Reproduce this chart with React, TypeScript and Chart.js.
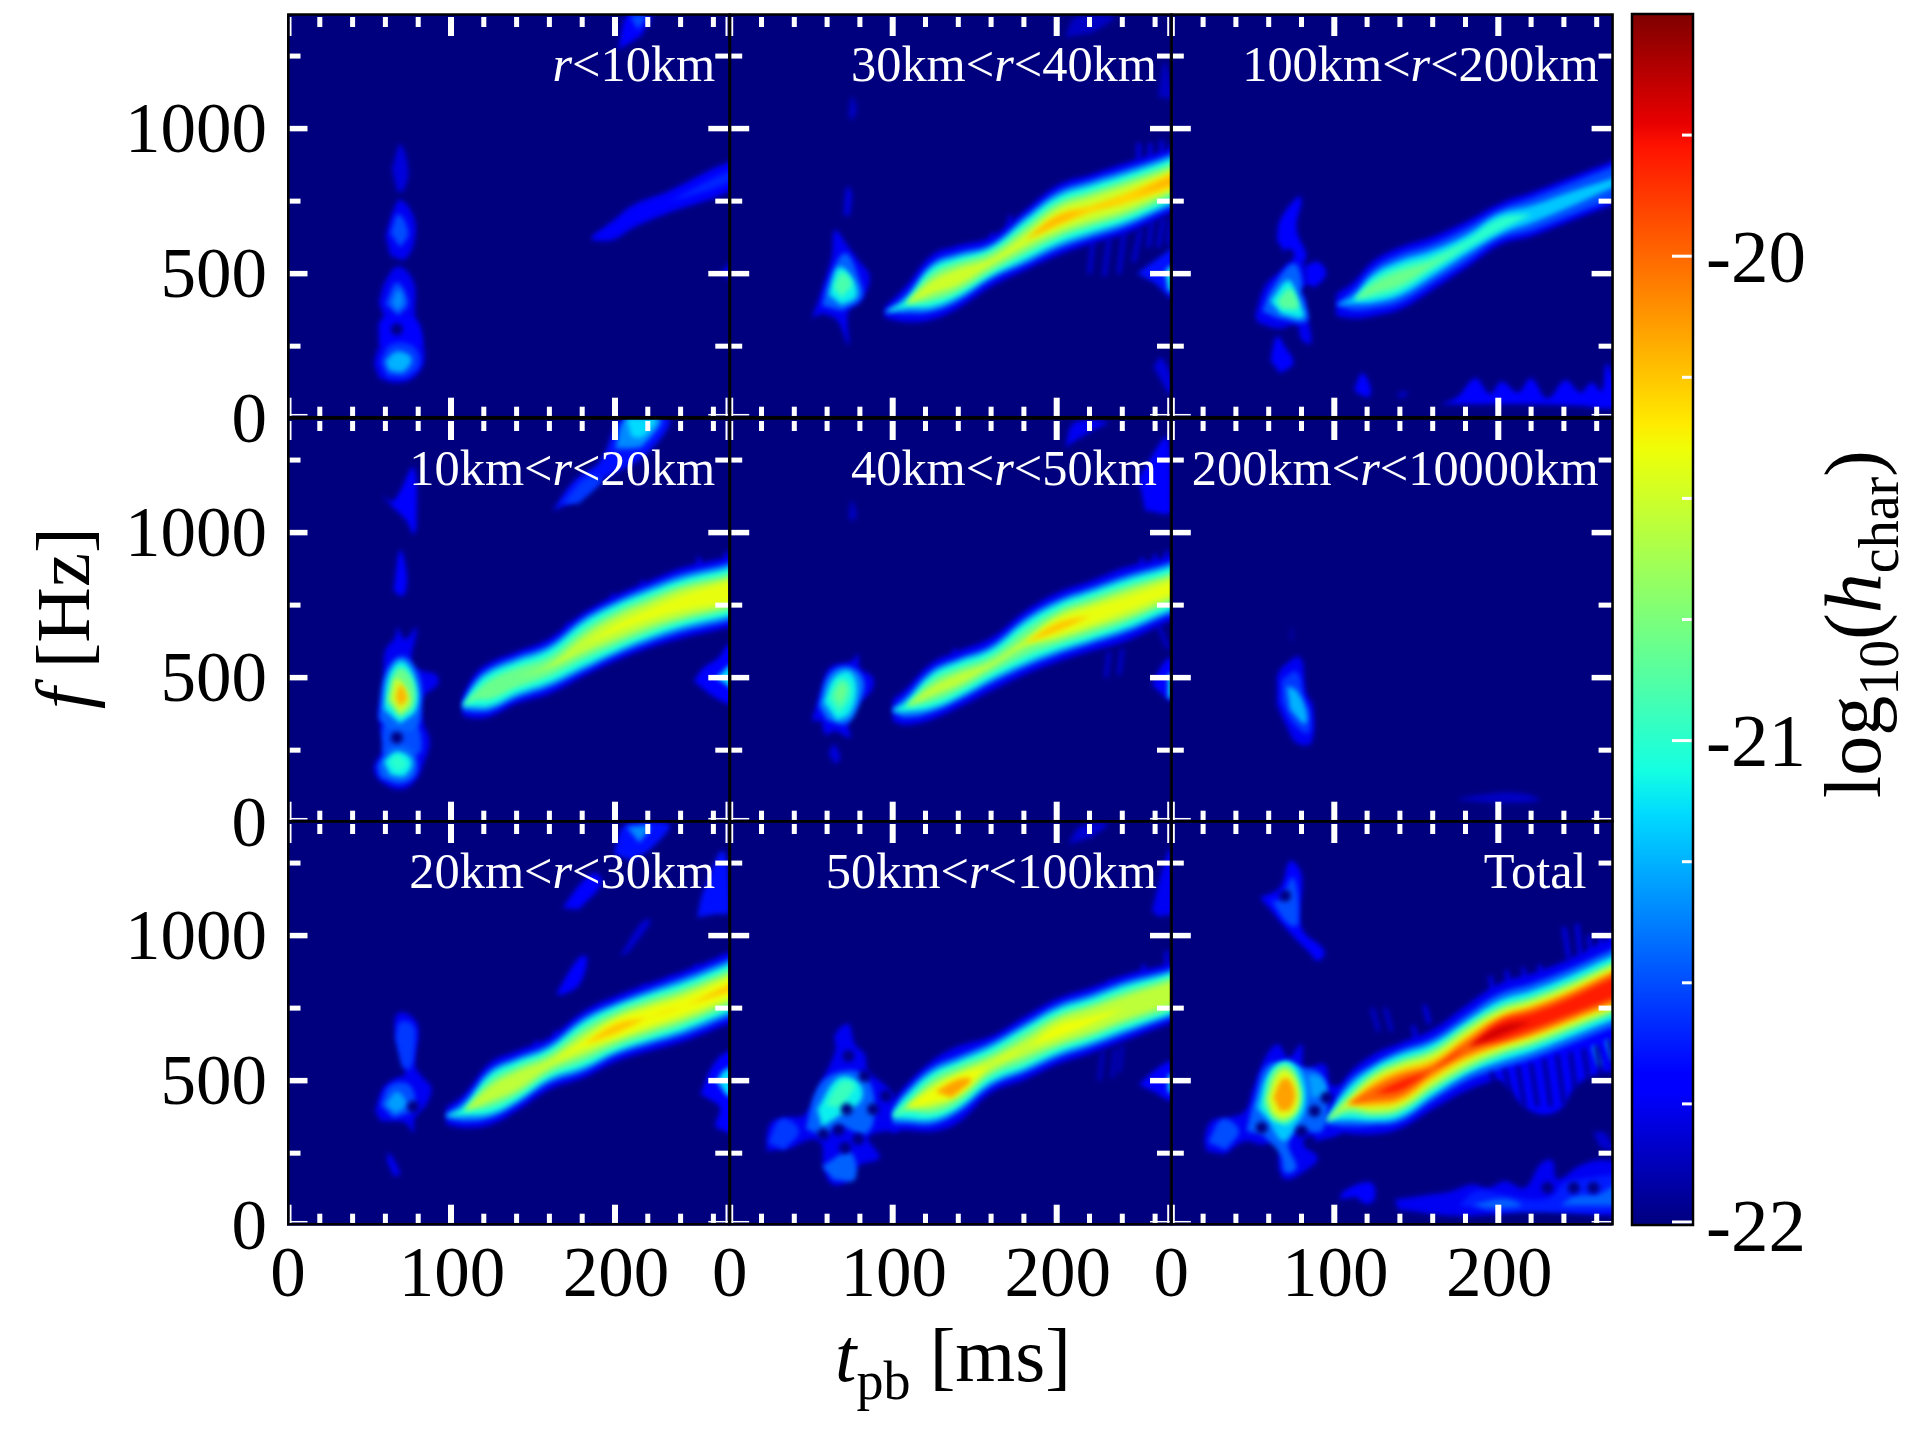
import React, { useEffect, useRef } from "react";
import { Chart, registerables } from "chart.js";
Chart.register(...registerables);

const SERIF = "'Liberation Serif'";
const NAVY = "rgb(0,0,127)";

// ---- axes
const xMajor = [0, 100, 200];
const xMinor = [20, 40, 60, 80, 120, 140, 160, 180, 220, 240, 260];
const yMajor = [0, 500, 1000];
const yMinor = [250, 750, 1250];
const cbMajor = [-22, -21, -20];
const cbMinor = [-21.75, -21.5, -21.25, -20.75, -20.5, -20.25, -19.75];
const jetStops = [
  [0, 0, 0, 127], [0.11, 0, 0, 255], [0.125, 0, 0, 255], [0.34, 0, 219, 255], [0.375, 20, 255, 226],
  [0.64, 238, 255, 8], [0.66, 255, 236, 0], [0.89, 255, 19, 0], [0.91, 232, 0, 0], [1, 127, 0, 0],
];

// ---- panel r<10km
const p1Label = ["", "r", "<10km"];
const p1T = [186, 199, 211, 233, 260, 270, 280];
const p1F = [622, 650, 697, 748, 811, 834, 850];
const p1Bands = [
  [-21.75, [8, 34, 40, 38, 52, 52, 52]],
  [-21.7, [0, 14, 21, 21, 34, 34, 34]],
  [-21.6, [0, 0, 0, 0, 18, 18, 18]],
];
const p1Blobs = [
  [-21.75, [53, 190, 56, 245, 63, 290, 78, 305, 84, 215, 78, 145, 66, 124, 56, 140]],
  [-21.75, [56, 400, 60, 475, 68, 525, 77, 475, 78, 380, 76, 320, 60, 340]],
  [-21.72, [56, 260, 58, 345, 78, 345, 82, 260, 74, 240, 60, 240]],
  [-21.5, [60, 395, 67, 470, 74, 400, 68, 355]],
  [-21.35, [64, 400, 68, 445, 71, 400, 67, 372]],
  [-21.55, [57, 195, 63, 255, 77, 250, 81, 190, 73, 145, 61, 145]],
  [-21.25, [60, 200, 67, 232, 76, 208, 71, 162, 62, 166]],
  [-21.75, [60, 630, 65, 720, 69, 755, 77, 700, 78, 620, 72, 550, 63, 562]],
  [-21.5, [63, 640, 68, 705, 74, 640, 69, 590]],
  [-21.8, [64, 860, 69, 945, 74, 860, 71, 785, 67, 785]],
  [-21.7, [202, 1271, 208, 1395, 222, 1395, 216, 1320]],
  [-21.5, [209, 1390, 219, 1390, 214, 1340]],
  [-21.8, [264, 505, 272, 540, 272, 470]],
];
const p1Streaks = [];
const p1Holes = [[67, 308]];

// ---- panel 30km<r<40km
const p2Label = ["30km<", "r", "<40km"];
const p2T = [95, 108, 124, 140, 160, 181, 201, 221, 242, 268, 280];
const p2F = [366, 395, 453, 489, 541, 616, 685, 723, 760, 817, 845];
const p2Bands = [
  [-21.75, [18, 62, 112, 108, 86, 104, 122, 120, 122, 112, 112]],
  [-21.4, [0, 32, 84, 84, 62, 84, 100, 100, 100, 92, 92]],
  [-21.05, [0, 14, 68, 68, 48, 68, 82, 82, 82, 76, 76]],
  [-20.75, [0, 0, 46, 50, 34, 46, 60, 60, 62, 57, 57]],
  [-20.5, [0, 0, 22, 28, 12, 22, 40, 40, 42, 38, 38]],
  [-20.3, [0, 0, 0, 0, 0, 0, 20, 12, 18, 26, 26]],
  [-20.2, [0, 0, 0, 0, 0, 0, 9, 0, 0, 12, 12]],
];
const p2Blobs = [
  [-21.75, [50.6, 346, 56.7, 444, 62.8, 559, 64.8, 650, 73, 593, 79, 547, 86, 490, 81, 409, 73, 369, 73, 254, 66, 340, 57, 363]],
  [-21.45, [57, 390, 61, 475, 71, 570, 80, 475, 81, 415, 69, 372]],
  [-21.1, [61, 428, 67, 522, 75, 488, 78, 422, 69, 392]],
  [-20.9, [64, 452, 69, 505, 75, 465, 69, 418]],
  [-21.85, [73, 1040, 75, 1110, 78, 1070, 76, 1030]],
  [-21.8, [70, 700, 72, 800, 75, 780, 74, 700]],
  [-21.65, [249, 501, 266, 570, 272, 593, 290, 600, 290, 400, 272, 409, 260, 467]],
  [-21.1, [268, 440, 268, 520, 290, 525, 290, 435]],
  [-21.85, [205, 1315, 212, 1385, 235, 1385, 222, 1330]],
  [-21.85, [262, 1110, 266, 1230, 271, 1100]],
  [-21.8, [259, 180, 264, 210, 272, 100, 268, 85]],
];
const p2Streaks = [
  [-21.75, 250, 890, 250, 950], [-21.75, 257, 890, 257, 950], [-21.75, 264, 890, 264, 960], [-21.75, 270, 890, 270, 950],
  [-21.75, 170, 650, 172, 700], [-21.75, 160, 600, 161, 640], [-21.75, 140, 560, 141, 590], [-21.75, 210, 790, 211, 820],
  [-21.8, 222, 610, 220, 500], [-21.8, 232, 620, 229, 490], [-21.8, 241, 640, 238, 500],
  [-21.8, 251, 650, 247, 540], [-21.8, 258, 680, 256, 590], [-21.8, 265, 690, 262, 590], [-21.8, 270, 690, 268, 600],
];
const p2Holes = [];

// ---- panel 100km<r<200km
const p3Label = ["100km<", "r", "<200km"];
const p3T = [101, 112, 124, 140, 160, 181, 201, 221, 242, 268, 280];
const p3F = [392, 409, 449, 484, 536, 602, 671, 706, 752, 809, 834];
const p3Bands = [
  [-21.75, [38, 64, 96, 108, 92, 80, 72, 76, 76, 76, 76]],
  [-21.5, [0, 36, 70, 84, 68, 58, 52, 56, 56, 56, 56]],
  [-21.2, [0, 14, 50, 62, 46, 34, 36, 30, 26, 16, 16]],
  [-21.0, [0, 0, 36, 46, 28, 18, 22, 0, 0, 0, 0]],
  [-20.8, [0, 0, 18, 26, 8, 0, 0, 0, 0, 0, 0]],
];
const p3Blobs = [
  [-21.75, [51.6, 352, 57.7, 457, 65.9, 503, 78, 560, 84, 457, 82, 410, 86, 261, 80, 272, 77, 323, 66, 311, 53.7, 330]],
  [-21.7, [65, 616, 67, 685, 78, 766, 80, 755, 77, 653, 83, 560, 78, 537, 70, 570]],
  [-21.7, [82, 525, 90, 541, 95, 501, 88, 453, 83, 453]],
  [-21.7, [61, 202, 65, 283, 70, 248, 75, 191, 67, 156]],
  [-21.45, [56, 370, 62, 450, 76, 535, 82, 405, 83, 335, 66, 345]],
  [-21.1, [61, 405, 72, 477, 78, 409, 81, 350, 68, 360]],
  [-20.85, [65, 405, 73, 448, 78, 382, 68, 378]],
  [-21.72, [165, 50, 175, 75, 186, 139, 195, 85, 202, 128, 212, 90, 220, 139, 230, 70, 241, 133, 250, 90, 257, 125, 263, 95, 266, 190, 272, 100, 272, 40, 250, 45, 220, 50, 190, 50]],
  [-21.7, [112, 100, 117, 157, 122, 110, 121, 75, 115, 85]],
  [-21.85, [138, 80, 141, 95, 145, 85, 141, 70]],
];
const p3Streaks = [];
const p3Holes = [[72, 565], [84, 440]];

// ---- panel 10km<r<20km
const p4Label = ["10km<", "r", "<20km"];
const p4T = [107, 115, 124, 140, 160, 181, 201, 221, 242, 268, 280];
const p4F = [402, 437, 460, 500, 540, 615, 672, 718, 759, 793, 815];
const p4Bands = [
  [-21.75, [34, 78, 94, 90, 96, 110, 114, 116, 122, 122, 122]],
  [-21.4, [14, 55, 74, 72, 74, 92, 95, 97, 100, 100, 100]],
  [-21.05, [0, 38, 58, 56, 58, 76, 80, 80, 82, 82, 82]],
  [-20.8, [0, 14, 34, 34, 34, 52, 60, 62, 64, 64, 64]],
  [-20.55, [0, 0, 0, 0, 6, 28, 40, 42, 48, 48, 48]],
  [-20.42, [0, 0, 0, 0, 0, 0, 12, 18, 26, 34, 34]],
];
const p4Blobs = [
  [-21.75, [55.7, 385, 58.7, 477, 59.8, 592, 65.9, 638, 67.3, 672, 72, 632, 79, 672, 76, 546, 83, 523, 91, 511, 92, 477, 83, 431, 83, 350, 87, 282, 83, 201, 78, 144, 69, 115, 57, 144, 53, 190, 59, 259, 57, 328]],
  [-21.5, [58, 245, 60, 340, 78, 340, 82, 250, 76, 230, 62, 230]],
  [-21.45, [55, 196, 64, 265, 76, 252, 79, 175, 70, 135, 57, 155]],
  [-21.1, [59, 210, 67, 245, 76, 215, 72, 162, 63, 165]],
  [-21.0, [62, 212, 68, 232, 73, 200, 67, 175]],
  [-21.45, [56, 358, 60, 515, 70, 575, 80, 515, 82, 405, 78, 322, 62, 322]],
  [-21.1, [59, 392, 62, 508, 70, 558, 78, 495, 79, 393, 69, 342]],
  [-20.8, [61, 416, 65, 510, 70, 535, 77, 482, 77, 402, 69, 362]],
  [-20.5, [63, 428, 67, 498, 75, 422, 69, 375]],
  [-20.2, [66.5, 431, 69, 474, 73, 431, 69, 400]],
  [-21.72, [65, 800, 69, 940, 73, 860, 72, 790, 69, 780]],
  [-21.72, [58, 1126, 65, 1110, 77, 1224, 79, 1029, 77, 994, 73, 1040, 65, 1086]],
  [-21.65, [162, 1075, 175, 1178, 191, 1247, 205, 1395, 233, 1395, 219, 1270, 191, 1178, 175, 1108]],
  [-21.55, [168, 1100, 183, 1190, 192, 1180, 178, 1100]],
  [-21.35, [200, 1290, 207, 1395, 228, 1395, 217, 1300, 210, 1290]],
  [-21.15, [207, 1395, 225, 1395, 217, 1330, 210, 1330]],
  [-21.7, [248, 488, 254, 534, 263, 568, 270, 615, 290, 615, 290, 400, 270, 408, 258, 442]],
  [-21.15, [262, 500, 272, 545, 290, 545, 290, 455, 272, 460]],
];
const p4Streaks = [
  [-21.75, 252, 860, 251, 915], [-21.75, 268, 865, 268, 935], [-21.75, 217, 780, 217, 835],
  [-21.75, 236, 810, 236, 850], [-21.75, 170, 640, 172, 690], [-21.75, 199, 750, 199, 790],
];
const p4Holes = [[67, 293]];

// ---- panel 40km<r<50km
const p5Label = ["40km<", "r", "<50km"];
const p5T = [100, 108, 124, 140, 160, 181, 201, 221, 242, 268, 280];
const p5F = [387, 399, 454, 494, 546, 621, 675, 713, 753, 805, 830];
const p5Bands = [
  [-21.75, [38, 62, 98, 98, 92, 110, 120, 122, 128, 112, 112]],
  [-21.4, [8, 36, 74, 74, 66, 86, 96, 98, 100, 90, 90]],
  [-21.05, [0, 16, 58, 60, 50, 70, 80, 82, 84, 74, 74]],
  [-20.8, [0, 0, 38, 40, 30, 46, 60, 64, 64, 54, 54]],
  [-20.55, [0, 0, 16, 20, 9, 16, 42, 44, 46, 40, 40]],
  [-20.42, [0, 0, 0, 0, 0, 0, 26, 28, 24, 22, 22]],
  [-20.25, [0, 0, 0, 0, 0, 0, 14, 0, 0, 0, 0]],
];
const p5Blobs = [
  [-21.75, [50.6, 351, 56.7, 466, 61.8, 535, 75, 557, 79, 580, 80, 534, 88, 500, 87, 454, 79, 408, 73, 339, 74, 293, 65, 316, 59, 305, 56.7, 351]],
  [-21.4, [55, 402, 61, 508, 72, 538, 82, 495, 80, 415, 72, 342, 60, 354]],
  [-21.1, [58, 415, 64, 498, 73, 522, 78, 470, 74, 378, 66, 352]],
  [-20.95, [61, 428, 67, 494, 73, 488, 74, 430, 67, 375]],
  [-20.8, [64, 440, 69, 482, 72, 460, 68, 402]],
  [-21.8, [61, 236, 64, 270, 68, 224, 65, 201]],
  [-21.85, [73, 1050, 75, 1110, 78, 1060, 76, 1040]],
  [-21.75, [205, 1293, 211, 1380, 231, 1380, 221, 1350]],
  [-21.72, [250, 1190, 268, 1328, 270, 1075, 254, 1075]],
  [-21.7, [258, 477, 266, 557, 270, 569, 290, 569, 290, 420, 270, 420, 262, 454]],
  [-21.1, [268, 511, 290, 511, 290, 430, 268, 430]],
];
const p5Streaks = [
  [-21.75, 252, 860, 252, 914], [-21.75, 260, 870, 260, 925], [-21.75, 267, 870, 267, 937], [-21.75, 138, 570, 138, 598],
  [-21.82, 232, 590, 230, 500], [-21.82, 240, 600, 238, 510], [-21.82, 262, 680, 268, 600],
];
const p5Holes = [];

// ---- panel 200km<r<10000km
const p6Label = ["200km<", "r", "<10000km"];
const p6T = [];
const p6F = [];
const p6Bands = [];
const p6Blobs = [
  [-21.75, [65, 505, 68, 535, 79, 570, 83, 443, 87, 405, 86, 275, 77, 275, 71, 332, 65, 405]],
  [-21.55, [68, 492, 77, 520, 82, 420, 85, 382, 84, 308, 75, 342, 68, 418]],
  [-21.25, [71, 470, 77, 455, 83, 382, 82, 340, 73, 390]],
  [-21.9, [73, 640, 74, 680, 75, 640, 74, 620]],
  [-21.85, [176, 85, 195, 100, 205, 105, 220, 95, 225, 75, 195, 70, 176, 78]],
];
const p6Streaks = [];
const p6Holes = [];

// ---- panel 20km<r<30km
const p7Label = ["20km<", "r", "<30km"];
const p7T = [97, 108, 124, 140, 160, 181, 201, 221, 242, 268, 280];
const p7F = [378, 395, 455, 499, 559, 625, 680, 719, 757, 815, 840];
const p7Bands = [
  [-21.75, [30, 58, 108, 104, 90, 115, 114, 118, 122, 122, 122]],
  [-21.4, [8, 36, 84, 82, 68, 94, 92, 96, 100, 100, 100]],
  [-21.05, [0, 16, 68, 68, 52, 78, 78, 80, 82, 82, 82]],
  [-20.8, [0, 0, 46, 50, 36, 58, 62, 64, 64, 64, 64]],
  [-20.55, [0, 0, 26, 32, 18, 36, 44, 46, 46, 48, 48]],
  [-20.4, [0, 0, 0, 0, 0, 12, 30, 30, 28, 32, 32]],
  [-20.25, [0, 0, 0, 0, 0, 0, 16, 0, 0, 12, 12]],
];
const p7Blobs = [
  [-21.75, [53.7, 395, 58.7, 476, 67, 510, 72, 522, 66, 672, 67, 729, 74, 729, 80, 683, 78, 556, 83, 510, 88, 476, 85, 418, 78, 372, 77, 321, 72, 355, 57, 361]],
  [-21.5, [57, 415, 63, 484, 75, 484, 77, 403, 65, 370]],
  [-21.3, [60, 418, 67, 462, 73, 418, 66, 387]],
  [-21.55, [66, 648, 69, 702, 77, 690, 78, 625, 75, 540, 70, 550]],
  [-21.75, [61, 223, 62, 252, 69, 177, 65, 171]],
  [-21.7, [168, 1096, 180, 1185, 188, 1215, 192, 1180, 178, 1090]],
  [-21.65, [199, 1280, 207, 1385, 233, 1385, 222, 1300, 210, 1260]],
  [-21.35, [207, 1375, 221, 1375, 215, 1320]],
  [-21.65, [250, 1062, 254, 1154, 266, 1292, 270, 1085, 260, 1073]],
  [-21.82, [203, 930, 217, 1050, 222, 1050, 208, 940]],
  [-21.7, [164, 798, 178, 924, 183, 924, 178, 830, 168, 795]],
  [-21.7, [252, 453, 260, 556, 270, 602, 290, 602, 290, 326, 262, 338, 264, 407, 256, 441]],
  [-21.15, [262, 500, 268, 540, 290, 560, 290, 440, 268, 450]],
];
const p7Streaks = [
  [-21.75, 218, 790, 218, 832], [-21.75, 250, 860, 250, 901], [-21.75, 266, 880, 266, 935],
  [-21.75, 164, 630, 164, 671], [-21.75, 152, 600, 152, 637], [-21.75, 234, 820, 234, 860],
];
const p7Holes = [[77, 410]];

// ---- panel 50km<r<100km
const p8Label = ["50km<", "r", "<100km"];
const p8T = [100, 108, 124, 140, 160, 181, 201, 221, 242, 268, 280];
const p8F = [378, 407, 447, 487, 556, 614, 671, 708, 752, 798, 822];
const p8Bands = [
  [-21.75, [52, 78, 122, 132, 98, 110, 114, 114, 114, 104, 104]],
  [-21.4, [26, 56, 98, 98, 76, 86, 92, 92, 92, 84, 84]],
  [-21.05, [8, 38, 80, 80, 60, 70, 76, 76, 76, 70, 70]],
  [-20.8, [0, 14, 60, 64, 40, 52, 58, 58, 58, 56, 56]],
  [-20.55, [0, 0, 40, 44, 22, 28, 42, 42, 40, 40, 40]],
  [-20.4, [0, 0, 22, 32, 0, 0, 20, 12, 0, 0, 0]],
];
const p8Blobs = [
  [-20.15, [126, 462, 140, 505, 148, 503, 136, 442]],
  [-21.75, [23, 257, 25, 349, 34, 372, 46.5, 384, 56.7, 499, 65, 603, 65, 661, 73, 695, 77, 625, 83, 591, 85, 534, 97, 476, 103, 418, 103, 326, 95, 326, 85, 304, 92, 235, 79, 206, 73, 154, 63, 143, 57.7, 212, 56.7, 281, 50.6, 298, 38.4, 269]],
  [-21.45, [47, 334, 55, 482, 69, 532, 83, 516, 89, 415, 84, 318, 67, 342, 58, 308]],
  [-21.45, [57, 205, 74, 254, 77, 160, 64, 158]],
  [-21.55, [24, 286, 32, 368, 43, 328, 34, 262]],
  [-21.1, [54, 402, 67, 510, 79, 495, 81, 436, 69, 385, 57, 342]],
  [-20.95, [59, 415, 69, 498, 77, 482, 68, 408]],
  [-21.7, [250, 487, 262, 545, 270, 568, 290, 568, 290, 430, 270, 430, 260, 459]],
  [-21.1, [268, 520, 290, 520, 290, 460, 268, 460]],
  [-21.82, [207, 1315, 215, 1378, 231, 1384, 221, 1338]],
  [-21.75, [258, 1085, 268, 1292, 272, 1292, 272, 1085, 262, 1065]],
];
const p8Streaks = [
  [-21.75, 267, 880, 267, 947], [-21.75, 253, 860, 253, 901], [-21.75, 233, 810, 233, 844],
  [-21.85, 228, 600, 226, 500], [-21.85, 236, 610, 234, 510], [-21.85, 240, 620, 238, 530],
];
const p8Holes = [[73, 585], [83, 516], [96, 447], [88, 401], [72, 401], [67, 330], [57.7, 315], [79, 298], [71, 269]];

// ---- panel Total
const p9Label = ["Total", "", ""];
const p9T = [95, 108, 124, 140, 160, 181, 201, 221, 242, 268, 280];
const p9F = [361, 418, 453, 482, 539, 614, 671, 706, 752, 815, 840];
const p9Bands = [
  [-21.75, [36, 100, 138, 148, 138, 148, 164, 164, 164, 174, 174]],
  [-21.45, [12, 76, 108, 124, 108, 114, 130, 130, 130, 134, 134]],
  [-21.1, [0, 54, 92, 108, 90, 92, 106, 106, 106, 110, 110]],
  [-20.8, [0, 32, 76, 90, 72, 78, 86, 86, 86, 90, 90]],
  [-20.5, [0, 12, 60, 74, 54, 60, 70, 70, 70, 76, 76]],
  [-20.25, [0, 0, 42, 56, 34, 40, 54, 54, 54, 60, 60]],
  [-20.0, [0, 0, 26, 40, 16, 26, 44, 44, 44, 50, 50]],
  [-19.8, [0, 0, 0, 16, 0, 0, 32, 28, 28, 34, 34]],
  [-19.68, [0, 0, 0, 0, 0, 0, 16, 0, 0, 0, 0]],
];
const p9Blobs = [
  [-21.75, [22, 257, 21, 303, 25, 361, 35, 372, 45.5, 395, 50.6, 476, 59, 591, 66, 625, 72, 579, 80, 625, 82, 545, 94, 557, 98, 487, 106, 476, 104, 326, 94, 298, 82, 280, 90, 234, 82, 188, 70, 160, 66, 211, 67, 291, 56, 280, 45.5, 291, 33, 246]],
  [-21.45, [46.5, 326, 51.6, 441, 59.8, 556, 78, 545, 92, 522, 96, 418, 92, 326, 78, 326, 72, 280, 77, 200, 70, 183, 67, 246, 56, 315]],
  [-21.5, [23, 288, 31.8, 368, 42, 328, 34, 262]],
  [-21.2, [52.6, 407, 59.5, 522, 70, 568, 80, 533, 83, 418, 76, 338, 68.6, 292, 59.8, 361]],
  [-21.3, [84, 522, 92, 510, 95, 453, 86, 441]],
  [-21.0, [55.7, 407, 60.8, 522, 71, 562, 78, 510, 80, 418, 72, 349, 63, 361]],
  [-20.75, [57.7, 428, 63, 528, 71, 552, 78, 502, 79, 414, 71, 360, 63, 366]],
  [-20.45, [60, 438, 65, 516, 71, 535, 77.4, 478, 77, 403, 69, 370, 62, 390]],
  [-20.15, [63, 441, 67.5, 500, 72, 506, 76, 453, 73, 402, 67, 394]],
  [-21.72, [54.7, 1131, 66.9, 1166, 73, 1257, 80, 1211, 80, 1028, 94, 947, 90, 913, 84, 947, 72, 1016, 60, 1097]],
  [-21.5, [66.9, 1120, 75, 1200, 78, 1039, 72, 1039, 61.8, 1120]],
  [-21.75, [137, 90, 159, 108, 171, 119, 184, 143, 194, 131, 204, 154, 216, 131, 226, 215, 233, 225, 236, 160, 249, 205, 259, 225, 269, 225, 290, 225, 290, 55, 220, 55, 180, 33, 139, 55]],
  [-21.62, [176, 70, 186, 118, 200, 112, 220, 90, 232, 100, 241, 150, 255, 165, 269, 175, 290, 175, 290, 70, 200, 45]],
  [-21.45, [184, 74, 204, 92, 214, 68, 192, 60]],
  [-21.45, [238, 70, 246, 100, 262, 110, 272, 140, 290, 140, 290, 70]],
  [-21.72, [103, 90, 106, 120, 122, 150, 125, 100, 120, 75, 113, 100]],
  [-21.82, [258, 322, 265, 320, 270, 260, 262, 270]],
  [-21.7, [188, 545, 200, 510, 220, 395, 236, 395, 249, 490, 269, 533, 290, 533, 290, 720, 200, 640]],
];
const p9Streaks = [
  [-21.75, 240, 1030, 243, 920], [-21.75, 248, 1040, 250, 930], [-21.75, 255, 1000, 258, 900],
  [-21.75, 262, 1010, 264, 910], [-21.75, 268, 1000, 270, 900], [-21.75, 195, 860, 197, 800], [-21.75, 205, 880, 207, 810],
  [-21.75, 215, 890, 217, 830], [-21.75, 225, 900, 227, 850], [-21.82, 123, 750, 127, 670],
  [-21.82, 131, 750, 135, 670], [-21.75, 155, 760, 158, 695], [-21.75, 148, 690, 150, 640],
  [-21.3, 258, 620, 262, 550], [-21.3, 266, 640, 270, 570], [-21.3, 274, 650, 278, 570],
  [-22, 196, 530, 200, 440], [-22, 204, 540, 208, 440], [-22, 212, 550, 216, 410], [-22, 220, 560, 224, 410],
  [-22, 228, 575, 232, 410], [-22, 236, 590, 240, 420], [-22, 244, 600, 247, 470], [-22, 252, 610, 255, 500],
  [-22, 260, 620, 263, 510], [-22, 268, 640, 271, 530],
];
const p9Holes = [[55.7, 338], [95.3, 441], [80, 326], [88, 395], [85, 290], [70, 1137], [230, 131], [246, 131], [258, 131]];

const panels = [
  [p1Label, p1T, p1F, p1Bands, p1Blobs, p1Streaks, p1Holes],
  [p2Label, p2T, p2F, p2Bands, p2Blobs, p2Streaks, p2Holes],
  [p3Label, p3T, p3F, p3Bands, p3Blobs, p3Streaks, p3Holes],
  [p4Label, p4T, p4F, p4Bands, p4Blobs, p4Streaks, p4Holes],
  [p5Label, p5T, p5F, p5Bands, p5Blobs, p5Streaks, p5Holes],
  [p6Label, p6T, p6F, p6Bands, p6Blobs, p6Streaks, p6Holes],
  [p7Label, p7T, p7F, p7Bands, p7Blobs, p7Streaks, p7Holes],
  [p8Label, p8T, p8F, p8Bands, p8Blobs, p8Streaks, p8Holes],
  [p9Label, p9T, p9F, p9Bands, p9Blobs, p9Streaks, p9Holes],
] as any[];

// ---- layout of the figure
const colLeft = [287, 728.7, 1170.3];
const rowTop = [14, 418, 821];
const panelW = 442.3;
const panelH = 404.7;
const xMax = 269.7;
const yMax = 1395;
const CW = 1920;
const CH = 1440;
const yAxisBox = 270;
const xAxisBox = 100;
const cbAxisBox = 200;

function jet(level: number) {
  const x = Math.max(0, Math.min(1, (level + 22) / 2.5));
  for (let i = 1; i < jetStops.length; i++) {
    const a = jetStops[i - 1], b = jetStops[i];
    if (x <= b[0]) {
      const k = (x - a[0]) / (b[0] - a[0]);
      return `rgb(${[1, 2, 3].map((j) => Math.round(a[j] + (b[j] - a[j]) * k)).join(",")})`;
    }
  }
  return NAVY;
}

function polygon(level: number, pts: { x: number; y: number }[]) {
  return { level, data: pts, showLine: true, fill: "shape", backgroundColor: jet(level), borderWidth: 0, pointRadius: 0, tension: 0.4 };
}

function buildDatasets(T: number[], F: number[], bands: any[], blobs: any[], streaks: any[], holes: any[]) {
  const items: any[] = [];
  for (const [level, w] of bands) {
    const idx = T.map((_, i) => i).filter((i) => w[i] > 0 || w[i - 1] > 0 || w[i + 1] > 0);
    const up = idx.map((i) => ({ x: T[i], y: F[i] + w[i] }));
    const down = idx.slice().reverse().map((i) => ({ x: T[i], y: F[i] - w[i] }));
    items.push(polygon(level, [...up, ...down]));
  }
  for (const [level, c] of blobs) {
    const pts = [];
    for (let i = 0; i < c.length; i += 2) pts.push({ x: c[i], y: c[i + 1] });
    items.push(polygon(level, pts));
  }
  for (const [level, x0, y0, x1, y1] of streaks) {
    items.push({
      level, data: [{ x: x0, y: y0 }, { x: x1, y: y1 }], showLine: true, fill: false,
      borderColor: jet(level), borderWidth: 4, pointRadius: 0, tension: 0,
    });
  }
  items.sort((a, b) => (a.level <= -22 ? 1 : 0) - (b.level <= -22 ? 1 : 0) || a.level - b.level);
  if (holes.length) {
    items.push({
      level: -22, data: holes.map((h: number[]) => ({ x: h[0], y: h[1] })), showLine: false, fill: false,
      pointRadius: 6, pointBorderWidth: 0, pointBackgroundColor: NAVY,
    });
  }
  // Chart.js paints the first dataset last
  return items.reverse();
}

function drawRun(ctx: CanvasRenderingContext2D, runs: any[]) {
  let x = 0;
  for (const r of runs) {
    ctx.font = r.font;
    ctx.fillText(r.text, x, r.dy || 0);
    x += ctx.measureText(r.text).width;
  }
}

function frame(ctx: CanvasRenderingContext2D, l: number, t: number, w: number, h: number) {
  ctx.save();
  ctx.strokeStyle = "#000";
  ctx.lineWidth = 2.5;
  ctx.strokeRect(l, t, w, h);
  ctx.restore();
}

const blurPlugin = {
  id: "softField",
  beforeDraw(chart: any) {
    const a = chart.chartArea;
    chart.ctx.save();
    chart.ctx.fillStyle = NAVY;
    chart.ctx.fillRect(a.left, a.top, a.width, a.height);
    chart.ctx.restore();
  },
  beforeDatasetsDraw(chart: any) {
    chart.ctx.save();
    chart.ctx.filter = "blur(2.5px)";
  },
  afterDatasetsDraw(chart: any) {
    chart.ctx.restore();
  },
};

function panelOverlay(col: number, label: string[]) {
  return {
    id: "panelOverlay",
    afterDraw(chart: any) {
      const { ctx, chartArea: a, scales } = chart;
      const sx = scales.x, sy = scales.y;
      ctx.save();
      ctx.fillStyle = "#fff";
      const vTick = (px: number, len: number, w: number) => {
        ctx.fillRect(px - w / 2, a.top + 3, w, len);
        ctx.fillRect(px - w / 2, a.bottom - 2 - len, w, len);
      };
      xMinor.forEach((v) => vTick(sx.getPixelForValue(v), 10, 5));
      xMajor.forEach((v) => vTick(Math.max(sx.getPixelForValue(v), a.left + 3.5), 19, v === 0 ? 2 : 6));
      if (col < 2) vTick(sx.getPixelForValue(268), 19, 2);
      const hTick = (py: number, len: number, w: number) => {
        ctx.fillRect(a.left + 2.5, py - w / 2, len, w);
        ctx.fillRect(a.right - 1 - len - 2, py - w / 2, len + 2, w);
      };
      yMinor.forEach((v) => hTick(sy.getPixelForValue(v), 11, 5));
      yMajor.forEach((v) => hTick(Math.min(sy.getPixelForValue(v), a.bottom - 4), 18, v === 0 ? 1.5 : 5.5));
      frame(ctx, a.left + 1.3, a.top + 0.5, a.width - 1.3, a.height - 2);

      const right = a.right - (label[0] === "Total" ? 26 : 14);
      const base = a.top + 66.5;
      const runs = [
        { text: label[0], font: `50.4px ${SERIF}` },
        { text: label[1], font: `italic 50.4px ${SERIF}` },
        { text: label[2], font: `50.4px ${SERIF}` },
      ];
      let total = 0;
      for (const r of runs) {
        ctx.font = r.font;
        total += ctx.measureText(r.text).width;
      }
      ctx.translate(right - total, base);
      drawRun(ctx, runs);
      ctx.restore();
    },
  };
}

const colorbarOverlay = {
  id: "colorbarOverlay",
  afterDraw(chart: any) {
    const { ctx, chartArea: a, scales } = chart;
    ctx.save();
    ctx.fillStyle = "#fff";
    cbMinor.forEach((v) => ctx.fillRect(a.right - 11, scales.y.getPixelForValue(v) - 1.5, 10, 3));
    cbMajor.forEach((v) => ctx.fillRect(a.right - 21, Math.min(scales.y.getPixelForValue(v), a.bottom - 3) - 1.5, 20, 3));
    frame(ctx, a.left, a.top, a.width, a.height);
    ctx.fillStyle = "#000";
    ctx.textBaseline = "alphabetic";
    ctx.save();
    ctx.translate(89, 709);
    ctx.rotate(-Math.PI / 2);
    drawRun(ctx, [{ text: "f", font: `italic 77px ${SERIF}` }, { text: " [Hz]", font: `77px ${SERIF}` }]);
    ctx.restore();
    ctx.save();
    ctx.translate(835, 1381);
    drawRun(ctx, [
      { text: "t", font: `italic 77px ${SERIF}` },
      { text: "pb", font: `54px ${SERIF}`, dy: 18 },
      { text: " [ms]", font: `77px ${SERIF}` },
    ]);
    ctx.restore();
    ctx.save();
    ctx.translate(1880, 798);
    ctx.rotate(-Math.PI / 2);
    drawRun(ctx, [
      { text: "log", font: `80px ${SERIF}` },
      { text: "10", font: `56px ${SERIF}`, dy: 18 },
      { text: "(", font: `80px ${SERIF}` },
      { text: "h", font: `italic 80px ${SERIF}` },
      { text: "char", font: `56px ${SERIF}`, dy: 18 },
      { text: ")", font: `80px ${SERIF}` },
    ]);
    ctx.restore();
    ctx.restore();
  },
};

const noPad = (s: any) => { s.paddingLeft = 0; s.paddingRight = 0; s.paddingTop = 0; s.paddingBottom = 0; };
const canvasStyle: React.CSSProperties = { position: "absolute", left: 0, top: 0, width: CW, height: CH };

export default function App() {
  const refs = useRef<(HTMLCanvasElement | null)[]>([]);
  useEffect(() => {
    const charts: Chart[] = [];
    panels.forEach((p, i) => {
      const col = i % 3, row = Math.floor(i / 3);
      const [label, T, F, bands, blobs, streaks, holes] = p;
      const l = colLeft[col], t = rowTop[row];
      charts.push(
        new Chart(refs.current[i] as HTMLCanvasElement, {
          type: "line",
          data: { datasets: buildDatasets(T, F, bands, blobs, streaks, holes) as any },
          options: {
            responsive: false,
            animation: false,
            devicePixelRatio: 1,
            layout: { padding: { left: l - yAxisBox, top: t, right: CW - l - panelW, bottom: CH - t - panelH - xAxisBox } },
            plugins: { legend: { display: false }, tooltip: { enabled: false }, title: { display: false } },
            events: [],
            scales: {
              x: {
                type: "linear", min: 0, max: xMax, grid: { display: false }, border: { display: false },
                afterBuildTicks: (s: any) => { s.ticks = xMajor.map((value) => ({ value })); },
                afterFit: (s: any) => { s.height = xAxisBox; noPad(s); },
                ticks: {
                  display: row === 2, padding: 1, color: "#000", autoSkip: false, maxRotation: 0, labelOffset: 1,
                  font: { family: "Liberation Serif", size: 71 }, callback: (v: any) => String(v),
                },
              },
              y: {
                type: "linear", min: 0, max: yMax, grid: { display: false }, border: { display: false },
                afterBuildTicks: (s: any) => { s.ticks = yMajor.map((value) => ({ value })); },
                afterFit: (s: any) => { s.width = yAxisBox; noPad(s); },
                ticks: {
                  display: col === 0, padding: 12, color: "#000", autoSkip: false, labelOffset: 5,
                  font: { family: "Liberation Serif", size: 71 }, callback: (v: any) => String(v),
                },
              },
            },
          } as any,
          plugins: [blurPlugin, panelOverlay(col, label)] as any,
        })
      );
    });
    const cbL = 1632, cbT = 14, cbW = 61, cbH = 1211;
    charts.push(
      new Chart(refs.current[9] as HTMLCanvasElement, {
        type: "bar",
        data: {
          labels: [""],
          datasets: [{
            data: [[-22, -19.5]],
            barPercentage: 1,
            categoryPercentage: 1,
            backgroundColor: (c: any) => {
              const { ctx, chartArea, scales } = c.chart;
              if (!chartArea) return NAVY;
              const g = ctx.createLinearGradient(0, scales.y.getPixelForValue(-22), 0, scales.y.getPixelForValue(-19.5));
              jetStops.forEach((s) => g.addColorStop(s[0], `rgb(${s[1]},${s[2]},${s[3]})`));
              return g;
            },
          }] as any,
        },
        options: {
          responsive: false,
          animation: false,
          devicePixelRatio: 1,
          events: [],
          layout: { padding: { left: cbL, top: cbT, right: CW - cbL - cbW - cbAxisBox, bottom: CH - cbT - cbH } },
          plugins: { legend: { display: false }, tooltip: { enabled: false } },
          scales: {
            x: { display: true, grid: { display: false }, border: { display: false }, ticks: { display: false }, afterFit: (s: any) => { s.height = 0; noPad(s); } },
            y: {
              position: "right", min: -22, max: -19.5, grid: { display: false }, border: { display: false },
              afterBuildTicks: (s: any) => { s.ticks = cbMajor.map((value) => ({ value })); },
              afterFit: (s: any) => { s.width = cbAxisBox; noPad(s); },
              ticks: {
                padding: 5, color: "#000", autoSkip: false, labelOffset: 6,
                font: { family: "Liberation Serif", size: 75 }, callback: (v: any) => String(v),
              },
            },
          },
        } as any,
        plugins: [colorbarOverlay] as any,
      })
    );
    return () => charts.forEach((c) => c.destroy());
  }, []);
  return (
    <div style={{ position: "absolute", left: 0, top: 0, width: CW, height: CH, background: "#fff", overflow: "hidden" }}>
      {Array.from({ length: 10 }, (_, i) => (
        <canvas key={i} ref={(el) => { refs.current[i] = el; }} width={CW} height={CH} style={canvasStyle} />
      ))}
    </div>
  );
}
